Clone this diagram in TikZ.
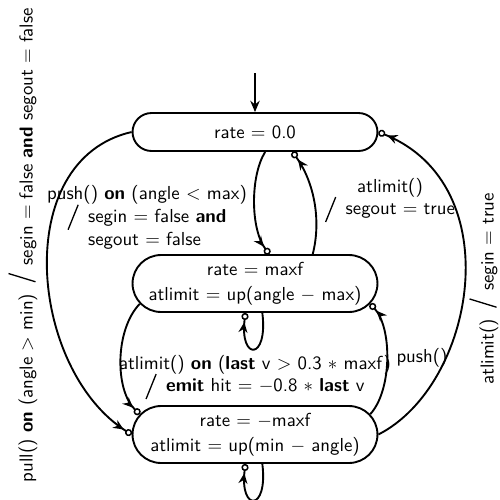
\documentclass[tikz,border=0pt]{standalone}
\usetikzlibrary{arrows.meta,shapes.misc}

% a leaning bar: angle, length, shift below the baseline
\newcommand\trbar[3]{\smash{\raisebox{#3}{\rotatebox{#1}{\rule{0.7pt}{#2}}}}}
% slash between a trigger and its actions
\newcommand\trslash{\trbar{-22}{14.3pt}{-3.7pt}}
% the slash of the one-line labels
\newcommand\trslashline{\trbar{-17}{15pt}{-1.4pt}}
% trigger on top, slash and actions below
\newcommand\trlabel[2]{\begin{tabular}{@{}c@{}}#1\\\trslash\hspace{5pt}\begin{tabular}[t]{@{}l@{}}#2\end{tabular}\end{tabular}}

\begin{document}
\begin{tikzpicture}[
  x=0.532pt, y=-0.532pt,
  font=\sffamily,
  state/.style={rounded rectangle, draw, line width=1pt, minimum width=136.3pt,
    inner sep=3pt, align=center},
  trans/.style={line width=1pt,
    -{Stealth[length=5.5pt,width=4.8pt,sep=1.2pt]Circle[open,length=3.8pt,line width=0.8pt]}},
  initarrow/.style={line width=1pt, -{Stealth[length=6pt,width=5pt]}},
  lbl/.style={inner sep=0pt}
]
\useasboundingbox (0,0) rectangle (500,499);

% states
\node[state, minimum height=20.2pt] (zero) at (255,132) {rate $=$ 0.0};
\node[state, minimum height=30.3pt] (up) at (255,283.5)
  {rate $=$ maxf\\[1.3pt] atlimit $=$ up(angle $-$ max)};
\node[state, minimum height=30.3pt] (down) at (255,434.5)
  {rate $=$ $-$maxf\\[1.3pt] atlimit $=$ up(min $-$ angle)};

% initial transition
\coordinate (start) at (255,73);
\draw[initarrow] (start) -- (zero);

% transitions
\draw[trans] (zero.-63) .. controls +(-15,24) and +(-19,-25) .. (up.64);
\draw[trans] (up.27) .. controls +(9,-35) and +(21,29) .. (zero.-28);
\draw[trans] (up.-76) .. controls +(6,48) and +(-6,48) .. (up.-108);
\draw[trans] (down.-76) .. controls +(6,48) and +(-6,48) .. (down.-108);
\draw[trans] (up.190) .. controls +(-25,26) and +(-25,-24) .. (down.170);
\draw[trans] (down.10) .. controls +(22,-24) and +(22,24) .. (up.-10);
\draw[trans] (zero.west) .. controls +(-122,28) and +(-102,-64.5) .. (down.west);
\draw[trans] (down.east) .. controls +(97,-49.5) and +(132,53) .. (zero.east);

% transition labels
\node[lbl] (lpush) at (147,218)
  {\trlabel{push() \textbf{on} (angle $<$ max)}{segin $=$ false \textbf{and}\\ segout $=$ false}};
\node[lbl] (lout) at (390,199)
  {\trlabel{atlimit()}{segout $=$ true}};
\node[lbl] (lbounce) at (255,376)
  {\trlabel{atlimit() \textbf{on} (\textbf{last} v $>$ 0.3 $\ast$ maxf)}{\textbf{emit} hit $=$ $-$0.8 $\ast$ \textbf{last} v}};
\node[lbl] (lpush2) at (422,358) {push()};
\node[lbl, rotate=90] (lpull) at (28,245)
  {pull() \textbf{on} (angle $>$ min)\hspace{6pt}\trslashline\hspace{4pt}segin $=$ false \textbf{and} segout $=$ false};
\node[lbl, rotate=90] (lin) at (489,289)
  {atlimit()\hspace{6pt}\trslashline\hspace{4pt}segin $=$ true};
\end{tikzpicture}
\end{document}
